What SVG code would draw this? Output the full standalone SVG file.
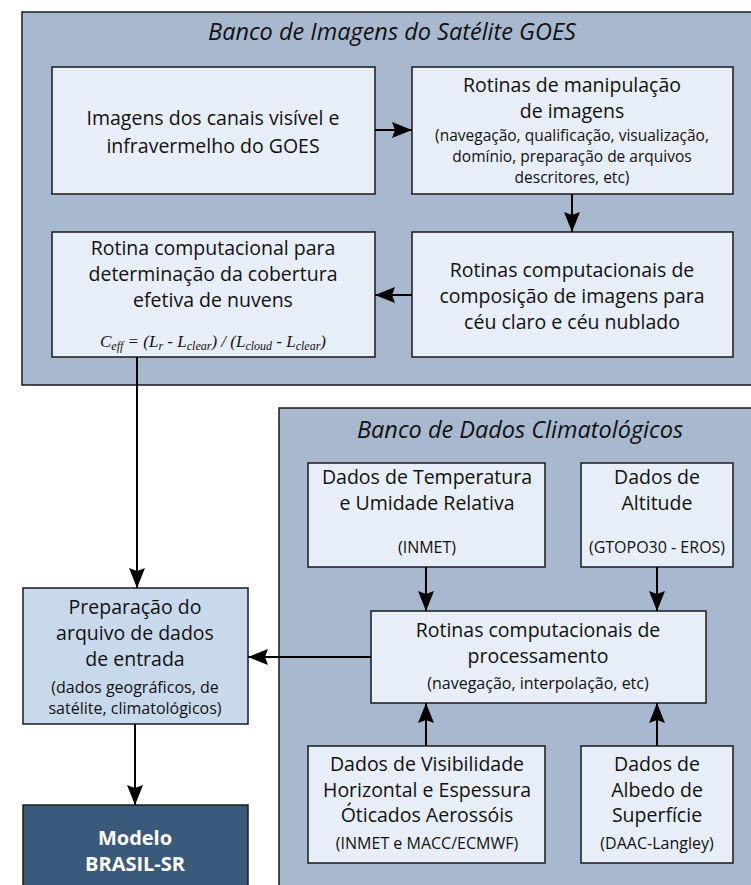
<svg xmlns="http://www.w3.org/2000/svg" width="751" height="885" viewBox="0 0 751 885">
<style>
.panel{fill:#a8b9cf;stroke:#1a1a1a;stroke-width:1.5}
.box{fill:#e8eef7;stroke:#1a1a1a;stroke-width:1.5}
.prep{fill:#c9d9ec;stroke:#1a1a1a;stroke-width:1.5}
.model{fill:#3a5a7b;stroke:#1a1a1a;stroke-width:1.5}
text{font-family:"Open Sans",Lato,"Liberation Sans",sans-serif;fill:#111;text-anchor:middle}
.t{font-size:19.5px}
.s{font-size:16px}
.s2{font-size:15.5px}
.h{font-size:23.5px;font-style:italic}
.f{font-family:"Liberation Serif",serif;font-style:italic;font-size:17px}
.m{font-size:20px;font-weight:bold;fill:#fff}
.c{stroke:#000;stroke-width:2;fill:none}
</style>
<defs>
<marker id="ah" viewBox="0 0 20 16" refX="20" refY="8" markerWidth="20" markerHeight="16" markerUnits="userSpaceOnUse" orient="auto">
<path d="M0,0 L20,8 L0,16 L3,8 Z" fill="#000"/>
</marker>
</defs>
<g id="panel-goes">
<rect class="panel" x="22" y="12" width="740" height="373"/>
<text class="h" x="392" y="40">Banco de Imagens do Satélite GOES</text>
</g>
<g id="panel-clima">
<rect class="panel" x="279" y="408" width="484" height="490"/>
<text class="h" x="520" y="438">Banco de Dados Climatológicos</text>
</g>
<g id="n-imagens">
<rect class="box" x="52" y="67" width="323" height="127"/>
<text class="t" x="213" y="125">Imagens dos canais visível e</text>
<text class="t" x="213" y="153">infravermelho do GOES</text>
</g>
<g id="n-manip">
<rect class="box" x="412" y="67" width="321" height="127"/>
<text class="t" x="572" y="92">Rotinas de manipulação</text>
<text class="t" x="572" y="118">de imagens</text>
<text class="s2" x="572" y="141">(navegação, qualificação, visualização,</text>
<text class="s2" x="572" y="162">domínio, preparação de arquivos</text>
<text class="s2" x="572" y="183">descritores, etc)</text>
</g>
<g id="n-compos">
<rect class="box" x="412" y="232" width="321" height="125"/>
<text class="t" x="572" y="277">Rotinas computacionais de</text>
<text class="t" x="572" y="303">composição de imagens para</text>
<text class="t" x="572" y="329">céu claro e céu nublado</text>
</g>
<g id="n-cobertura">
<rect class="box" x="52" y="232" width="323" height="125"/>
<text class="t" x="213" y="255">Rotina computacional para</text>
<text class="t" x="213" y="281">determinação da cobertura</text>
<text class="t" x="213" y="307">efetiva de nuvens</text>
<text class="f" x="213" y="347">C<tspan font-size="12" dy="3">eff</tspan><tspan dy="-3"> = (L</tspan><tspan font-size="12" dy="3">r</tspan><tspan dy="-3"> - L</tspan><tspan font-size="12" dy="3">clear</tspan><tspan dy="-3">) / (L</tspan><tspan font-size="12" dy="3">cloud</tspan><tspan dy="-3"> - L</tspan><tspan font-size="12" dy="3">clear</tspan><tspan dy="-3">)</tspan></text>
</g>
<g id="n-temp">
<rect class="box" x="308" y="463" width="237" height="104"/>
<text class="t" x="427" y="484">Dados de Temperatura</text>
<text class="t" x="427" y="510">e Umidade Relativa</text>
<text class="s" x="427" y="553">(INMET)</text>
</g>
<g id="n-alt">
<rect class="box" x="581" y="463" width="152" height="104"/>
<text class="t" x="657" y="484">Dados de</text>
<text class="t" x="657" y="510">Altitude</text>
<text class="s" x="657" y="553">(GTOPO30 - EROS)</text>
</g>
<g id="n-proc">
<rect class="box" x="371" y="611" width="335" height="92"/>
<text class="t" x="538" y="637">Rotinas computacionais de</text>
<text class="t" x="538" y="663">processamento</text>
<text class="s" x="538" y="689">(navegação, interpolação, etc)</text>
</g>
<g id="n-vis">
<rect class="box" x="308" y="746" width="237" height="117"/>
<text class="t" x="427" y="771">Dados de Visibilidade</text>
<text class="t" x="427" y="797">Horizontal e Espessura</text>
<text class="t" x="427" y="822">Óticados Aerossóis</text>
<text class="s" x="427" y="849">(INMET e MACC/ECMWF)</text>
</g>
<g id="n-albedo">
<rect class="box" x="581" y="746" width="152" height="117"/>
<text class="t" x="657" y="771">Dados de</text>
<text class="t" x="657" y="797">Albedo de</text>
<text class="t" x="657" y="822">Superfície</text>
<text class="s" x="657" y="849">(DAAC-Langley)</text>
</g>
<g id="n-prep">
<rect class="prep" x="23" y="588" width="225" height="136"/>
<text class="t" x="135" y="614">Preparação do</text>
<text class="t" x="135" y="640">arquivo de dados</text>
<text class="t" x="135" y="666">de entrada</text>
<text class="s" x="135" y="693">(dados geográficos, de</text>
<text class="s" x="135" y="714">satélite, climatológicos)</text>
</g>
<g id="n-modelo">
<rect class="model" x="23" y="805" width="225" height="95"/>
<text class="m" x="135" y="845">Modelo</text>
<text class="m" x="135" y="871">BRASIL-SR</text>
</g>
<g id="connectors">
<line class="c" x1="375" y1="130" x2="412" y2="130" marker-end="url(#ah)"/>
<line class="c" x1="572" y1="194" x2="572" y2="232" marker-end="url(#ah)"/>
<line class="c" x1="412" y1="295" x2="375" y2="295" marker-end="url(#ah)"/>
<line class="c" x1="137" y1="357" x2="137" y2="588" marker-end="url(#ah)"/>
<line class="c" x1="426" y1="567" x2="426" y2="611" marker-end="url(#ah)"/>
<line class="c" x1="657" y1="567" x2="657" y2="611" marker-end="url(#ah)"/>
<line class="c" x1="426" y1="746" x2="426" y2="703" marker-end="url(#ah)"/>
<line class="c" x1="657" y1="746" x2="657" y2="703" marker-end="url(#ah)"/>
<line class="c" x1="371" y1="657" x2="248" y2="657" marker-end="url(#ah)"/>
<line class="c" x1="135" y1="724" x2="135" y2="805" marker-end="url(#ah)"/>
</g>
</svg>
